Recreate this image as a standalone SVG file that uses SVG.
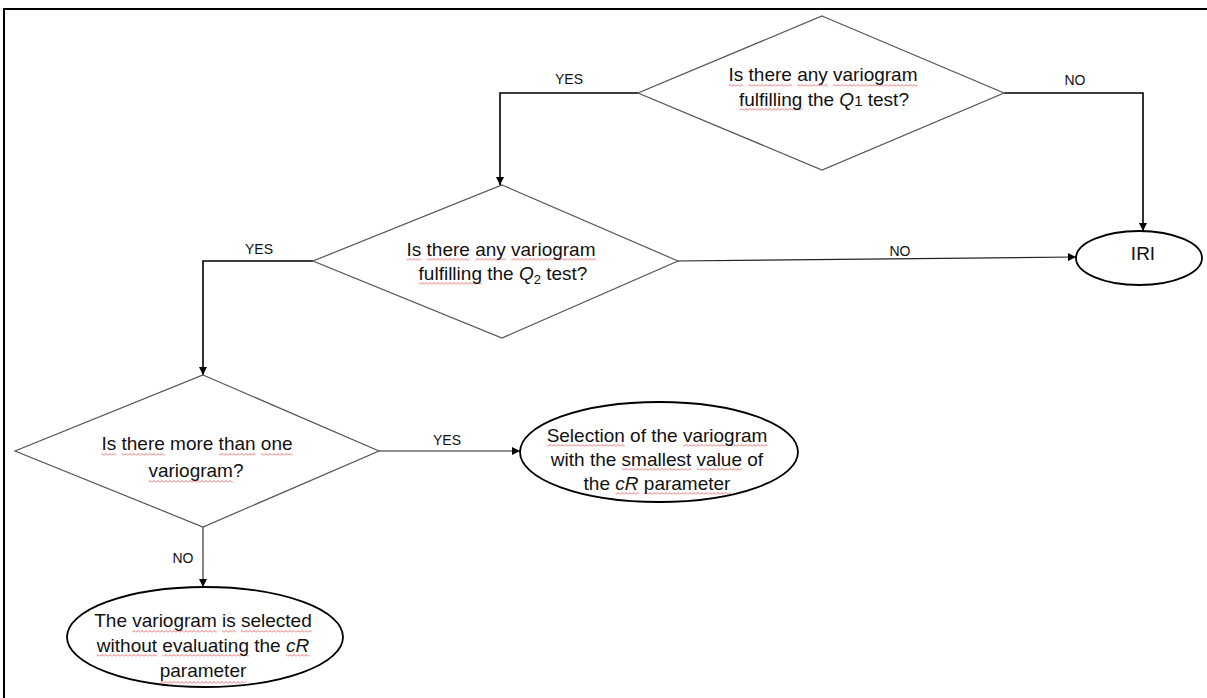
<svg xmlns="http://www.w3.org/2000/svg" width="1207" height="698" viewBox="0 0 1207 698">
<style>
.frame{fill:none;stroke:#000;stroke-width:2}
.dia{fill:#fff;stroke:#555;stroke-width:1.2}
.ell{fill:#fff;stroke:#000;stroke-width:1.8}
.conn{fill:none;stroke:#000;stroke-width:1.6}
.thin{fill:none;stroke:#222;stroke-width:1.1}
.t{font-family:"Liberation Sans",Arial,sans-serif;font-size:19px;fill:#111;text-anchor:middle}
.lbl{font-family:"Liberation Sans",Arial,sans-serif;font-size:14px;fill:#111;text-anchor:middle}
.sq{fill:url(#wavy)}
</style>
<defs>
<marker id="arr" viewBox="0 0 10 10" refX="10" refY="5" markerWidth="9" markerHeight="8" markerUnits="userSpaceOnUse" orient="auto">
<path d="M0,0 L10,5 L0,10 z" fill="#000"/>
</marker>
<pattern id="wavy" patternUnits="userSpaceOnUse" width="4" height="3">
<path d="M0,2.5 L2,0.5 L4,2.5" fill="none" stroke="#e04a4a" stroke-width="0.8"/>
</pattern>
</defs>
<rect width="1207" height="698" fill="#fff"/>
<path class="frame" d="M4,698 V9 H1207"/>

<g id="connectors">
<path class="conn" d="M638,93 H500 V185" marker-end="url(#arr)"/>
<path class="conn" d="M1004,93 H1143 V231" marker-end="url(#arr)"/>
<path class="conn" d="M313,261 H203 V375" marker-end="url(#arr)"/>
<path class="thin" d="M678,261 L1076,257" marker-end="url(#arr)"/>
<path class="thin" d="M379,451 H520" marker-end="url(#arr)"/>
<path class="thin" d="M203,527 V587" marker-end="url(#arr)"/>
<text class="lbl" x="569" y="84">YES</text>
<text class="lbl" x="1075" y="85">NO</text>
<text class="lbl" x="259" y="254">YES</text>
<text class="lbl" x="900" y="256">NO</text>
<text class="lbl" x="447" y="445">YES</text>
<text class="lbl" x="183" y="563">NO</text>
</g>

<g id="q1">
<polygon class="dia" points="822,16 1004,93 822,170 638,93"/>
<g class="sq">
<rect x="728.5" y="84" width="14.8" height="3"/><rect x="748.6" y="84" width="43.3" height="3"/><rect x="797.2" y="84" width="30.6" height="3"/><rect x="833.1" y="84" width="84.5" height="3"/>
<rect x="739.1" y="108" width="63.3" height="3"/>
</g>
<text class="t" x="823" y="81">Is there any variogram</text>
<text class="t" x="824" y="106">fulfilling the <tspan font-style="italic">Q</tspan><tspan font-size="15">1</tspan> test?</text>
</g>

<g id="q2">
<polygon class="dia" points="502,185 678,261 502,338 313,261"/>
<g class="sq">
<rect x="406.5" y="258" width="14.8" height="3"/><rect x="426.6" y="258" width="43.3" height="3"/><rect x="475.2" y="258" width="30.6" height="3"/><rect x="511.1" y="258" width="84.5" height="3"/>
<rect x="418.6" y="282" width="63.3" height="3"/>
</g>
<text class="t" x="501" y="256">Is there any variogram</text>
<text class="t" x="503" y="280">fulfilling the <tspan font-style="italic">Q</tspan><tspan font-size="13" dy="4">2</tspan><tspan dy="-4"> test?</tspan></text>
</g>

<g id="q3">
<polygon class="dia" points="203,375 379,451 203,527 15,451"/>
<g class="sq">
<rect x="101.4" y="453" width="14.8" height="3"/><rect x="121.5" y="453" width="43.3" height="3"/><rect x="218.7" y="453" width="37" height="3"/><rect x="261" y="453" width="31.7" height="3"/>
<rect x="148.5" y="480" width="84.5" height="3"/>
</g>
<text class="t" x="197" y="450">Is there more than one</text>
<text class="t" x="196" y="477">variogram?</text>
</g>

<g id="iri">
<ellipse class="ell" cx="1139" cy="258" rx="63" ry="27"/>
<text class="t" x="1143" y="260">IRI</text>
</g>

<g id="select-smallest">
<ellipse class="ell" cx="659" cy="452" rx="139" ry="50"/>
<g class="sq">
<rect x="546.7" y="444" width="78.1" height="3"/><rect x="682.9" y="444" width="84.5" height="3"/>
<rect x="621.7" y="468" width="69.7" height="3"/><rect x="696.7" y="468" width="45.4" height="3"/>
<rect x="615.3" y="492" width="23.2" height="3"/><rect x="643.8" y="492" width="86.6" height="3"/>
</g>
<text class="t" x="657" y="442">Selection of the variogram</text>
<text class="t" x="657" y="466">with the smallest value of</text>
<text class="t" x="657" y="490">the <tspan font-style="italic">cR</tspan> parameter</text>
</g>

<g id="select-without">
<ellipse class="ell" cx="205" cy="637" rx="138" ry="50"/>
<g class="sq">
<rect x="132.3" y="630" width="84.4" height="3"/><rect x="222" y="630" width="13.7" height="3"/><rect x="241" y="630" width="70.8" height="3"/>
<rect x="96.9" y="654" width="60.2" height="3"/><rect x="162.4" y="654" width="86.6" height="3"/><rect x="286" y="654" width="23.2" height="3"/>
<rect x="159.7" y="681" width="86.6" height="3"/>
</g>
<text class="t" x="203" y="627">The variogram is selected</text>
<text class="t" x="203" y="652">without evaluating the <tspan font-style="italic">cR</tspan></text>
<text class="t" x="203" y="677">parameter</text>
</g>
</svg>
